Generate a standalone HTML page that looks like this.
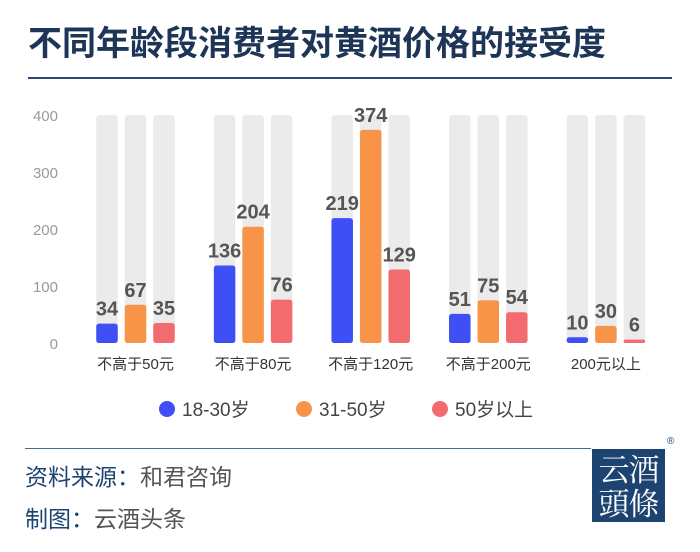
<!DOCTYPE html>
<html><head><meta charset="utf-8"><style>
body{margin:0;width:700px;height:552px;background:#fff;overflow:hidden;font-family:"Liberation Sans","Noto Sans CJK SC",sans-serif;position:relative}
.abs{position:absolute}
</style></head><body>
<div class="abs" style="left:28px;top:24px;font-size:34px;line-height:40px;font-weight:bold;color:#1d3557;white-space:nowrap">不同年龄段消费者对黄酒价格的接受度</div>
<div class="abs" style="left:28px;top:77px;width:644px;height:2px;background:#2a4a75"></div>
<svg class="abs" style="left:0;top:0" width="700" height="440" id="chart"></svg>
<div class="abs" style="left:25px;top:448px;width:566px;height:1px;background:#4a6a90"></div>
<div class="abs" style="left:25px;top:458px;font-size:23px;color:#555"><span style="color:#1d4370">资料来源：</span>和君咨询</div>
<div class="abs" style="left:25px;top:500px;font-size:23px;color:#555"><span style="color:#1d4370">制图：</span>云酒头条</div>
<div class="abs" style="left:592px;top:449px;width:73px;height:73px;background:#1d4370;color:#fff;font-family:'Noto Serif CJK SC',serif;font-size:31px;line-height:34px;text-align:center;padding-top:2px;box-sizing:border-box;white-space:nowrap;letter-spacing:-1px">云酒<br>頭條</div>
<div class="abs" style="left:667px;top:436px;font-size:10px;color:#1d4370">®</div>
<script>
const categories=["不高于50元","不高于80元","不高于120元","不高于200元","200元以上"];
const series1=[34,136,219,51,10];
const series2=[67,204,374,75,30];
const series3=[35,76,129,54,6];
const seriesNames=["18-30岁","31-50岁","50岁以上"];
const ticks=[0,100,200,300,400];
const colors=["#3d4ff5","#f79447","#f26b6f"];
const NS="http://www.w3.org/2000/svg";
const svg=document.getElementById('chart');
const y0=343,y1=115,vmax=400;
const y=v=>y0-(v/vmax)*(y0-y1);
const gx=i=>135.5+i*117.6;
const bw=21.5,pitch=28.5;
function mk(t,a){const e=document.createElementNS(NS,t);for(const k in a)e.setAttribute(k,a[k]);svg.appendChild(e);return e;}
function barPath(x,top,w,bot,r){r=Math.min(r,(bot-top)/2,w/2);return `M${x},${bot-r}L${x},${top+r}Q${x},${top} ${x+r},${top}L${x+w-r},${top}Q${x+w},${top} ${x+w},${top+r}L${x+w},${bot-r}Q${x+w},${bot} ${x+w-r},${bot}L${x+r},${bot}Q${x},${bot} ${x},${bot-r}Z`;}
ticks.forEach(t=>{const e=mk('text',{x:58,y:y(t)+6,'text-anchor':'end','font-size':'15','fill':'#999'});e.textContent=t;

});
const all=[series1,series2,series3];
categories.forEach((c,i)=>{
 all.forEach((s,j)=>{
  const x=gx(i)+(j-1)*pitch-bw/2;
  const bg=mk('path',{d:barPath(x,y(vmax),bw,y0,4),fill:'#ebebeb'});
  
  
  const b=mk('path',{d:barPath(x,y(s[i]),bw,y0,3),fill:colors[j]});
  
  
  const l=mk('text',{x:x+bw/2,y:y(s[i])-8,'text-anchor':'middle','font-size':'20','font-weight':'bold','fill':'#555'});
  l.textContent=s[i];
  
  
 });
 const t=mk('text',{x:gx(i),y:369,'text-anchor':'middle','font-size':'15','fill':'#333'});
 t.textContent=c;
 
 
});
const lx=[167,304,440];
seriesNames.forEach((n,j)=>{
 const c=mk('circle',{cx:lx[j],cy:409,r:8,fill:colors[j]});
 
 
 const t=mk('text',{x:lx[j]+15,y:416,'font-size':'19','fill':'#444'});
 t.textContent=n;
 
 
});
</script>
</body></html>
